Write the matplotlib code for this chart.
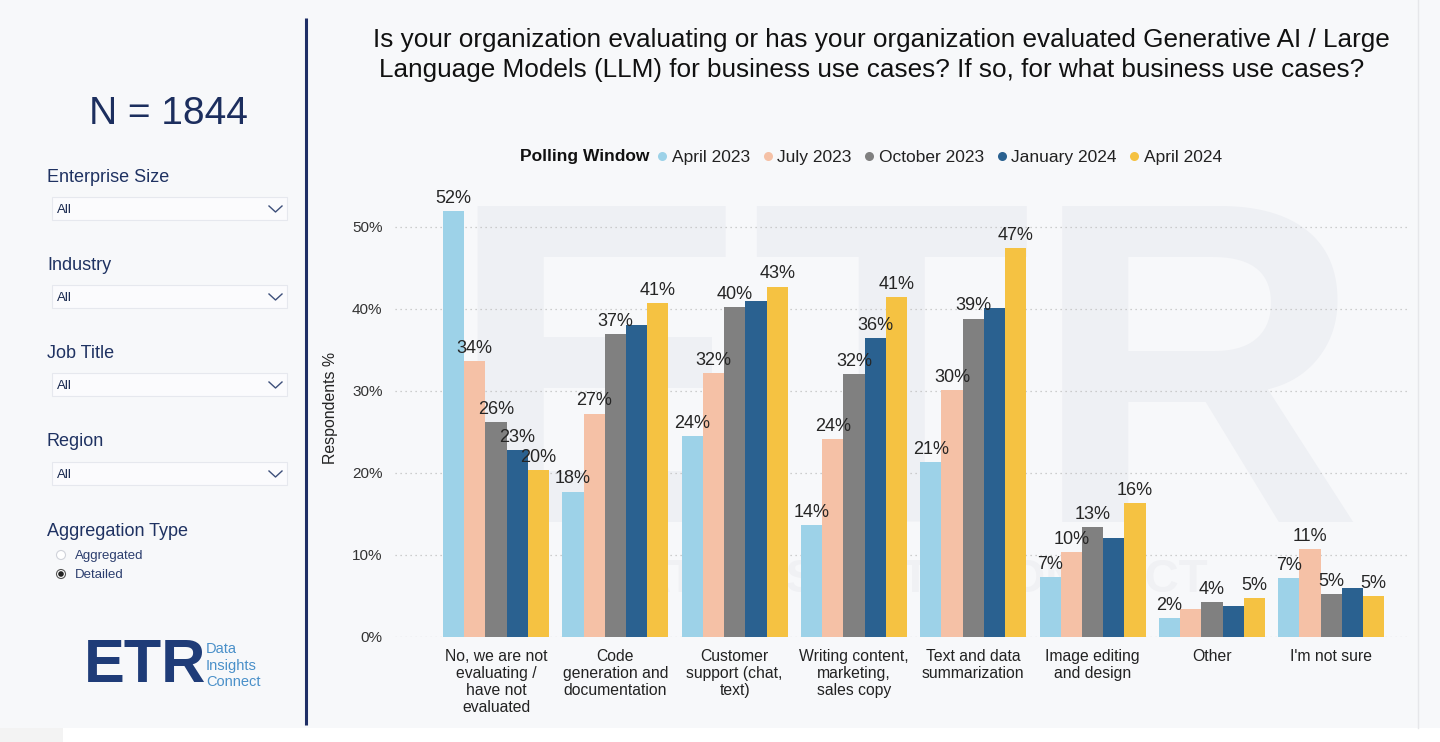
import numpy as np
import matplotlib
matplotlib.use("Agg")
import matplotlib.pyplot as plt
from matplotlib.lines import Line2D
from matplotlib.patches import Rectangle, Circle

plt.rcParams['font.family'] = ['Liberation Sans', 'DejaVu Sans']

# ---- data ----
categories = ["No, we are not\nevaluating /\nhave not\nevaluated",
              "Code\ngeneration and\ndocumentation",
              "Customer\nsupport (chat,\ntext)",
              "Writing content,\nmarketing,\nsales copy",
              "Text and data\nsummarization",
              "Image editing\nand design",
              "Other",
              "I'm not sure"]
series_names = ["April 2023", "July 2023", "October 2023", "January 2024", "April 2024"]
apr23 = [51.9, 17.7, 24.5, 13.6, 21.3, 7.3, 2.3, 7.1]
jul23 = [33.6, 27.2, 32.1, 24.1, 30.1, 10.3, 3.4, 10.7]
oct23 = [26.2, 36.9, 40.2, 32.0, 38.8, 13.4, 4.2, 5.2]
jan24 = [22.8, 38.0, 41.0, 36.4, 40.1, 12.0, 3.8, 5.9]
apr24 = [20.3, 40.7, 42.7, 41.4, 47.4, 16.3, 4.7, 5.0]
series = [apr23, jul23, oct23, jan24, apr24]
# labels the dashboard hid because they overlap: (category index, series index)
hidden_labels = [(1, 3), (2, 3), (4, 3), (5, 3), (6, 1), (6, 3), (7, 3)]
yticks = [0, 10, 20, 30, 40, 50]

colors = ['#9dd2e8', '#f5c1a6', '#808080', '#2a6190', '#f5c242']
navy = '#1c2e5e'
bg = '#f7f8fa'

fig = plt.figure(figsize=(14.4, 7.42), dpi=100)
fig.patch.set_facecolor(bg)

# background axes in pixel coordinates for the dashboard furniture
axb = fig.add_axes([0, 0, 1, 1], zorder=0)
axb.set_xlim(0, 1440)
axb.set_ylim(742, 0)
axb.axis('off')

# watermark
axb.text(905, 522, "ETR", fontsize=330, fontweight='bold', color='#eef0f4',
         ha='center', va='baseline', zorder=0)
axb.text(905, 580, "DATA INSIGHTS CONNECT", fontsize=34, fontweight='bold',
         color='#f0f1f4', ha='center', va='center', zorder=0)

# bottom strip and separators
axb.add_patch(Rectangle((0, 728), 1440, 14, facecolor='#ffffff', edgecolor='none', zorder=1))
axb.add_patch(Rectangle((0, 728), 63, 14, facecolor='#f3f3f3', edgecolor='none', zorder=1))
axb.plot([306, 306], [18, 725], color='#1f2f66', lw=2.2, solid_capstyle='butt', zorder=2)
axb.plot([1418, 1418], [0, 728], color='#e6e7ea', lw=1, zorder=2)

# left panel
axb.text(168, 114, "N = 1844", fontsize=28, color=navy, ha='center', va='center')
filters = [("Enterprise Size", 177), ("Industry", 265), ("Job Title", 353), ("Region", 442)]
for name, y in filters:
    axb.text(47, y, name, fontsize=13, color='#1f3262', ha='left', va='center')
    axb.add_patch(Rectangle((52, y + 20), 235, 23, facecolor='#fbfbfd',
                            edgecolor='#e6e8ee', lw=0.8, zorder=2))
    axb.text(57, y + 33, "All", fontsize=9.5, color='#1a2a50', ha='left', va='center', zorder=3)
    axb.plot([269, 275.5, 282], [y + 29, y + 35, y + 29], color='#3d4f7a', lw=1, zorder=3)

axb.text(47, 531, "Aggregation Type", fontsize=13, color='#1f3262', ha='left', va='center')
axb.add_patch(Circle((61, 555), 4.5, facecolor='white', edgecolor='#d0d3da', lw=0.8, zorder=3))
axb.text(75, 556, "Aggregated", fontsize=9.5, color='#2c3e6e', ha='left', va='center')
axb.add_patch(Circle((61, 574), 4.5, facecolor='white', edgecolor='#555555', lw=0.8, zorder=3))
axb.add_patch(Circle((61, 574), 2.8, facecolor='#222222', edgecolor='none', zorder=4))
axb.text(75, 575, "Detailed", fontsize=9.5, color='#2c3e6e', ha='left', va='center')

# logo
axb.text(84, 666, "ETR", fontsize=44, fontweight='bold', color='#1f3c78',
         ha='left', va='center')
for txt, y in [("Data", 649), ("Insights", 666), ("Connect", 682)]:
    axb.text(206, y, txt, fontsize=10.5, color='#4a90c9', ha='left', va='center')

# title
axb.text(881, 40, "Is your organization evaluating or has your organization evaluated Generative AI / Large",
         fontsize=18.8, color='#111111', ha='center', va='center')
axb.text(872, 70, "Language Models (LLM) for business use cases? If so, for what business use cases?",
         fontsize=18.8, color='#111111', ha='center', va='center')

# ---- chart ----
ax = fig.add_axes([395 / 1440, (742 - 636.7) / 742, (1410 - 395) / 1440, (636.7 - 193.9) / 742],
                  zorder=1)
ax.patch.set_alpha(0)
x = np.arange(len(categories))
w = 0.178
for j, (vals, col) in enumerate(zip(series, colors)):
    pos = x + (j - 2) * w
    ax.bar(pos, vals, w, color=col, zorder=3, label=series_names[j])
    for i, v in enumerate(vals):
        if (i, j) in hidden_labels:
            continue
        ax.annotate(f"{round(v)}%", (pos[i], v), xytext=(0, 3), textcoords='offset points',
                    ha='center', va='bottom', fontsize=13, color='#252525', zorder=4)

ax.set_xlim(-0.847, 7.66)
ax.set_ylim(0, 54)
ax.set_yticks(yticks)
ax.set_yticklabels([f"{t}%" for t in yticks], fontsize=11, color='#333333')
ax.set_xticks(x)
ax.set_xticklabels(categories, fontsize=11.3, color='#222222', linespacing=1.15)
ax.tick_params(axis='both', length=0)
ax.tick_params(axis='x', pad=9)
ax.tick_params(axis='y', pad=9)
for s in ax.spines.values():
    s.set_visible(False)
ax.yaxis.grid(True, linestyle=(0, (1, 3)), color='#bfbfbf', lw=0.9, zorder=0)
ax.set_ylabel("Respondents %", fontsize=11.4, color='#222222')
ax.yaxis.set_label_coords((338 - 395) / 1015, (636.7 - 408) / 442.8)

# legend
axb.text(649, 157, "Polling Window", fontsize=12.5, fontweight='bold', color='#111111',
         ha='right', va='center')
handles = [Line2D([], [], marker='o', linestyle='none', markersize=6.5,
                  markerfacecolor=c, markeredgecolor='none') for c in colors]
fig.legend(handles, series_names, loc='center left', bbox_to_anchor=(657 / 1440, 1 - 157 / 742),
           ncol=5, frameon=False, fontsize=12.5, handlelength=0.6, handletextpad=0.25,
           columnspacing=0.72, borderpad=0, borderaxespad=0, labelcolor='#222222')

fig.savefig("out.png", dpi=100, facecolor=bg)
